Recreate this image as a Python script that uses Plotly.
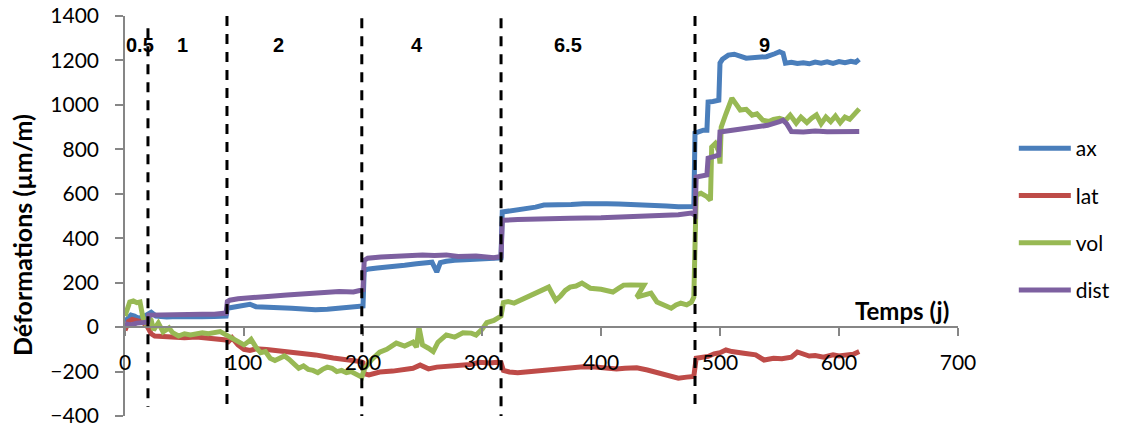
import plotly.graph_objects as go

# ---------------- data ----------------
ax_days = [0, 3, 5, 8, 11, 15, 19, 22, 26, 35, 45, 55, 65, 75, 85, 86, 90, 95, 100, 105, 110, 120, 130, 140, 150, 160, 170, 180, 190, 198, 200,
           201, 205, 212, 224, 235, 245, 250, 258, 262, 265, 270, 277, 290, 300, 310, 316,
           317, 325, 335, 345, 352, 365, 375, 385, 394, 405, 415, 425, 436, 445, 455, 465, 475, 478,
           479, 482, 486, 489, 490, 494, 497, 499, 500, 502, 507, 512, 522, 530, 539, 546, 550, 553,
           555, 560, 565, 570, 575, 580, 585, 590, 595, 600, 605, 610, 614, 617]
ax_vals = [25, 40, 54, 50, 40, 45, 55, 67, 50, 46, 48, 50, 47, 48, 50, 85, 88, 90, 98, 103, 92, 88, 86, 85, 82, 78, 80, 84, 88, 90, 95,
           256, 262, 266, 270, 278, 285, 288, 292, 248, 290, 296, 301, 304, 306, 310, 312,
           518, 524, 530, 540, 549, 548, 552, 555, 557, 555, 554, 553, 549, 548, 545, 542, 540, 543,
           873, 880, 886, 886, 1013, 1015, 1018, 1021, 1188, 1205, 1224, 1228, 1210, 1212, 1217, 1230, 1239, 1232,
           1188, 1192, 1186, 1190, 1185, 1193, 1188, 1194, 1187, 1195, 1190, 1196, 1192, 1205]

lat_days = [0, 3, 6, 10, 15, 19, 22, 25, 30, 40, 50, 60, 70, 80, 85, 87, 90, 95, 100, 105, 110, 119, 130, 145, 160, 175, 185, 198, 200,
            201, 205, 214, 225, 235, 242, 248, 255, 262, 270, 280, 290, 298, 306, 313, 316,
            318, 323, 330, 340, 350, 357, 365, 375, 385, 395, 405, 413, 420, 430, 439, 447, 455, 465, 472, 478,
            480, 485, 490, 495, 500, 505, 510, 520, 530, 537, 545, 552, 560, 565, 570, 575, 580, 587, 595, 600, 605, 612, 617]
lat_vals = [-15, 25, 35, 28, 22, 0, -30, -40, -42, -45, -48, -45, -50, -52, -58, -65, -48, -80, -100, -105, -98, -101, -108, -112, -125, -139, -145, -155, -160,
            -210, -215, -202, -198, -192, -185, -171, -188, -180, -178, -172, -168, -158, -162, -158, -160,
            -195, -202, -205, -200, -196, -193, -190, -185, -178, -180, -185, -189, -185, -183, -193, -205, -212, -230, -225, -222,
            -140, -135, -132, -120, -115, -103, -110, -118, -125, -148, -140, -142, -135, -112, -120, -130, -128, -135, -125, -130, -126, -122, -110]

vol_days = [0, 1, 4, 7, 10, 12.6, 15, 17, 20, 22, 24, 28, 32, 37, 40, 45, 50, 55, 60, 65, 70, 75, 80, 85,
            88, 92, 96, 100, 105, 106, 110, 114, 118, 122, 126, 130, 134, 138, 142, 146, 150, 154, 158, 162, 166, 170, 174, 178, 182, 186, 190, 194, 199,
            201, 207, 214, 220, 228, 235, 242, 245, 247, 250, 255, 259, 263, 270, 277, 284, 291, 295, 300, 304, 310, 316,
            318, 322, 327, 332, 338, 344, 349, 356, 359, 362, 366, 370, 374, 379, 384, 388, 391, 400, 410, 415, 419, 425, 430, 436,
            430, 436, 442, 447, 453, 459, 463, 467, 472, 476, 478,
            479, 480, 484, 489, 492, 493, 496, 499, 500, 501, 505, 510, 514, 517, 522, 527, 531, 536, 541, 545, 550, 555, 559, 564, 568, 573, 577, 581, 585, 589, 593, 597, 601, 605, 609, 613, 617]
vol_vals = [50, 63, 113, 118, 110, 113, 45, 22, 40, 31, -13, 18, -22, -4, -25, -40, -30, -35, -30, -25, -30, -25, -20, -35,
            -45, -55, -70, -80, -60, -55, -90, -115, -110, -140, -150, -140, -130, -145, -165, -185, -175, -190, -195, -205, -190, -180, -185, -200, -195, -205, -200, -210, -225,
            -190, -148, -113, -100, -72, -85, -68, -90, 0, -80, -95, -110, -68, -35, -45, -25, -27, -36, -10, 20, 30, 50,
            110, 115, 108, 120, 135, 150, 167, 180, 150, 121, 140, 165, 180, 185, 198, 185, 175, 170, 158, 175, 189, 190, 192, 189,
            135, 145, 153, 113, 100, 85, 100, 108, 100, 112, 135,
            580, 595, 602, 587, 571, 810, 826, 790, 736, 900, 960, 1030, 1000, 977, 980, 954, 960, 931, 925, 935, 940, 930, 954, 918, 945, 920, 940, 955, 915, 945, 925, 950, 920, 945, 935, 960, 982]

dist_days = [0, 5, 10, 15, 19, 20, 25, 35, 45, 55, 65, 75, 85, 86, 88, 95, 107, 120, 136, 150, 164, 180, 192, 198, 200,
             201, 204, 215, 230, 250, 260, 270, 280, 295, 310, 316,
             317, 318, 330, 350, 374, 400, 430, 450, 465, 476, 478,
             479, 480, 485, 489, 490, 495, 499, 500, 505, 512, 522, 530, 540, 550, 553, 556, 560, 570, 580, 590, 600, 610, 617]
dist_vals = [15, 10, 18, 20, 22, 54, 55, 56, 57, 56, 58, 58, 63, 115, 121, 128, 135, 138, 144, 150, 158, 160, 158, 166, 168,
             300, 310, 315, 320, 324, 322, 325, 318, 320, 312, 318,
             470, 481, 484, 488, 490, 492, 497, 502, 506, 513, 510,
             504, 675, 680, 685, 760, 768, 774, 878, 882, 888, 895, 900, 908, 925, 931, 915, 880, 878, 882, 879, 881, 878, 880]

stage_bounds = [19.3, 85.7, 199, 316, 479]
stage_top = [1345, 1400, 1390, 1390, 1400]
stage_bottom = [-360, -370, -400, -400, -365]
stage_labels = ["0.5", "1", "2", "4", "6.5", "9"]
stage_label_x = [12.6, 48.7, 128.6, 245, 372, 537]
stage_label_y = 1270

series = [
    ("ax", ax_days, ax_vals, "#4A7EBB"),
    ("lat", lat_days, lat_vals, "#BE4B48"),
    ("vol", vol_days, vol_vals, "#98B954"),
    ("dist", dist_days, dist_vals, "#7D60A0"),
]

# ---------------- figure ----------------
fig = go.Figure()
for name, xs, ys, col in series:
    fig.add_trace(go.Scatter(x=xs, y=ys, mode="lines", name=name, legendgroup=name,
                             line=dict(color=col, width=5), hoverinfo="skip"))

for bx, t, b in zip(stage_bounds, stage_top, stage_bottom):
    fig.add_shape(type="line", xref="x", yref="y", x0=bx, x1=bx, y0=t, y1=b,
                  line=dict(color="black", width=3, dash="10px,8px"), layer="above")

for lab, lx in zip(stage_labels, stage_label_x):
    fig.add_annotation(x=lx, y=stage_label_y, xref="x", yref="y", text=f"<b>{lab}</b>",
                       showarrow=False, font=dict(family="Liberation Sans", size=20, color="black"))

fig.add_annotation(x=694, y=76, xref="x", yref="y", text="<b>Temps (j)</b>", showarrow=False,
                   xanchor="right", yanchor="middle",
                   font=dict(family="Lato", size=24, color="black"))

fig.add_annotation(x=-0.1236, y=0.4525, xref="paper", yref="paper", text="<b>Déformations (µm/m)</b>",
                   showarrow=False, textangle=-90, xanchor="center", yanchor="middle",
                   font=dict(family="Lato", size=25, color="black"))

axis_col = "#868686"
fig.update_layout(
    width=1124, height=429,
    margin=dict(l=125, r=166, t=16, b=13, autoexpand=False),
    plot_bgcolor="white", paper_bgcolor="white",
    font=dict(family="Lato", size=20, color="black"),
    showlegend=True,
    legend=dict(x=1.067, y=0.72, xanchor="left", yanchor="top", tracegroupgap=17,
                font=dict(family="Lato", size=21, color="black"), bgcolor="rgba(0,0,0,0)",
                itemwidth=52),
    xaxis=dict(range=[0, 700], dtick=100, tick0=0, showgrid=False, zeroline=False,
               showline=True, linecolor=axis_col, linewidth=1.5,
               ticks="outside", ticklen=8, tickcolor=axis_col, tickwidth=1.5,
               anchor="free", position=400 / 1800, ticklabelstandoff=9, automargin=False,
               tickfont=dict(family="Lato", size=21, color="black")),
    yaxis=dict(range=[-400, 1400], dtick=200, tick0=-400, showgrid=False, zeroline=False,
               showline=True, linecolor=axis_col, linewidth=1.5,
               ticks="outside", ticklen=8, tickcolor=axis_col, tickwidth=1.5,
               ticklabelstandoff=12, automargin=False, ticklabeloverflow="allow",
               tickfont=dict(family="Lato", size=21, color="black")),
)

fig.write_html("out.html", config={"displayModeBar": False},
               post_script="document.body.style.margin='0';")
